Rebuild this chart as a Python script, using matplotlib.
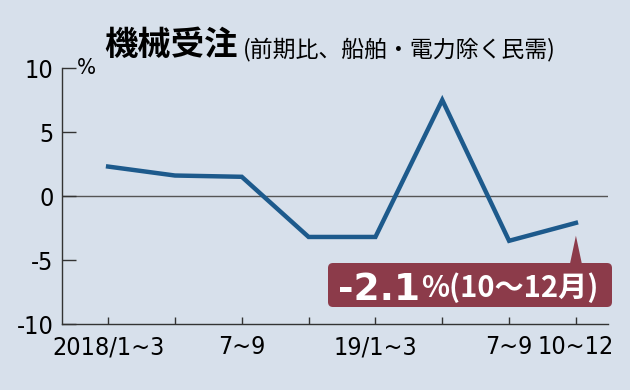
import matplotlib
matplotlib.use("Agg")
import matplotlib.pyplot as plt
from matplotlib.patches import FancyBboxPatch, Polygon

# data (前期比 %, 船舶・電力除く民需)
quarters = ["2018/1~3", "4~6", "7~9", "10~12", "19/1~3", "4~6", "7~9", "10~12"]
values = [2.3, 1.6, 1.5, -3.2, -3.2, 7.5, -3.5, -2.1]
shown_labels = [0, 2, 4, 6, 7]
yticks = [-10, -5, 0, 5, 10]

num_font = "DejaVu Sans"
jp_font = ["Noto Sans CJK JP", "DejaVu Sans"]

bg = "#d7e0eb"
line_c = "#1d5a8c"
box_c = "#8c3b4a"
ax_c = "#333333"

fig = plt.figure(figsize=(6.3, 3.9), dpi=100, facecolor=bg)
ax = fig.add_axes([62 / 630, 1 - 324 / 390, (608 - 62) / 630, (324 - 68) / 390])
ax.set_facecolor(bg)

x = list(range(len(values)))
ax.plot(x, values, color=line_c, lw=3.2, solid_joinstyle="miter", zorder=3)
ax.axhline(0, color="#555555", lw=1.0, zorder=1)

ax.set_xlim(-0.69, 7.48)
ax.set_ylim(-10, 10)
for s in ["top", "right"]:
    ax.spines[s].set_visible(False)
for s in ["left", "bottom"]:
    ax.spines[s].set_color(ax_c)
    ax.spines[s].set_linewidth(1.0)

ax.set_yticks(yticks)
ax.set_yticklabels([str(v) for v in yticks], fontfamily=num_font, fontsize=18,
                   fontstretch="condensed")
ax.tick_params(axis="y", direction="in", length=10, width=1, color=ax_c, pad=6)
ax.set_xticks(x)
ax.set_xticklabels([q if i in shown_labels else "" for i, q in enumerate(quarters)],
                   fontfamily=num_font, fontsize=18, fontstretch="condensed")
ax.tick_params(axis="x", direction="in", length=5, width=1, color=ax_c, pad=8)

ax.text(0.027, 1.0, "%", transform=ax.transAxes, fontfamily=num_font, fontsize=16,
        fontstretch="condensed", va="center", ha="left")

# title
fig.text(104 / 630, 1 - 46 / 390, "機械受注", family=jp_font, fontsize=24,
         fontweight="bold", va="center", ha="left")
fig.text(243 / 630, 1 - 49 / 390, "(前期比、船舶・電力除く民需)", family=jp_font,
         fontsize=16.5, va="center", ha="left")

# annotation box
box = FancyBboxPatch((3.28, 0.83), 2.84, 0.44, boxstyle="round,pad=0,rounding_size=0.05",
                     transform=fig.dpi_scale_trans, facecolor=box_c, edgecolor="none",
                     clip_on=False, zorder=5)
fig.add_artist(box)
tip = ax.transData.transform((x[-1], values[-1] - 1.0))
tip = fig.dpi_scale_trans.inverted().transform(tip)
tri = Polygon([(tip[0] - 0.06, 1.26), (tip[0] + 0.06, 1.26), tuple(tip)], closed=True,
              transform=fig.dpi_scale_trans, facecolor=box_c, edgecolor="none", zorder=5)
fig.add_artist(tri)
fig.text(338 / 630, 1 - 290 / 390, f"{values[-1]:.1f}", family="DejaVu Sans", fontsize=27,
         fontweight="bold", color="white", va="center", ha="left", zorder=6)
fig.text(421 / 630, 1 - 288 / 390, "%(10～12月)", family=jp_font, fontsize=21,
         fontweight="bold", color="white", va="center", ha="left", zorder=6)

fig.savefig("out.png", dpi=100, facecolor=bg)
